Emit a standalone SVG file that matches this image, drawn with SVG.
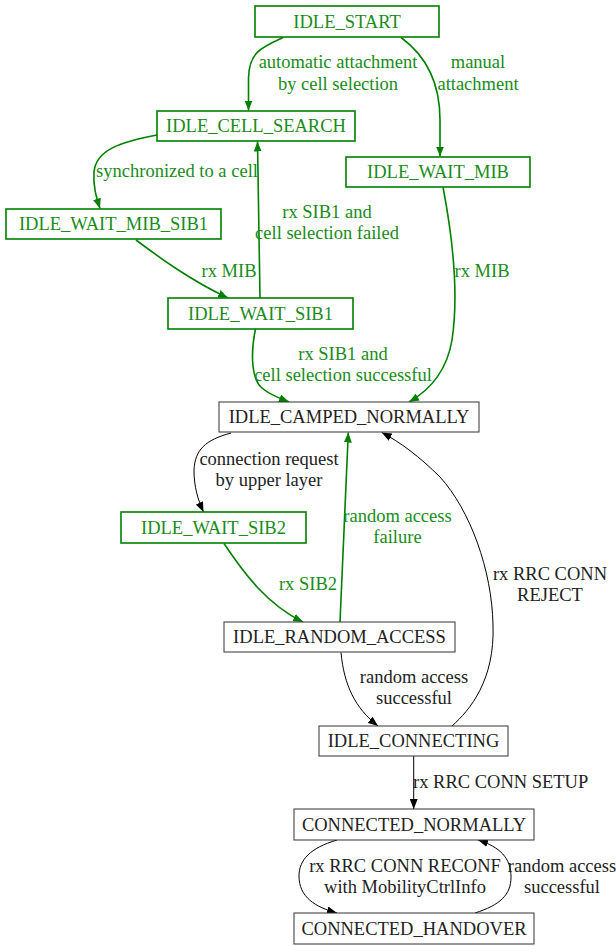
<svg xmlns="http://www.w3.org/2000/svg" width="616" height="946" viewBox="0 0 616 946">
<defs>
<marker id="ag" markerWidth="10" markerHeight="8" refX="10" refY="4" orient="auto" markerUnits="userSpaceOnUse" viewBox="0 0 10 8"><path d="M0,0 L10,4 L0,8 z" fill="#008000"/></marker>
<marker id="ab" markerWidth="10" markerHeight="8" refX="10" refY="4" orient="auto" markerUnits="userSpaceOnUse" viewBox="0 0 10 8"><path d="M0,0 L10,4 L0,8 z" fill="#000"/></marker>
</defs>
<style>
.gbox{fill:#fff;stroke:#008000;stroke-width:1.6}
.bbox{fill:#fff;stroke:#333;stroke-width:1}
text{font-size:18.5px;text-anchor:middle}
.gt{fill:#1a8c1a}
.bt{fill:#222}
.ge{fill:none;stroke:#008000;stroke-width:1.6;marker-end:url(#ag)}
.be{fill:none;stroke:#000;stroke-width:1;marker-end:url(#ab)}
</style>
<rect width="616" height="946" fill="#fff"/>
<g font-family="'Liberation Serif', 'DejaVu Serif', serif">
<g id="connectors">
<path class="ge" d="M283,37.5 C262,47 249,52 248.5,78 L248.5,110.5"/>
<path class="ge" d="M401,37.5 C425,55 440,80 440,120 L440,156.5"/>
<path class="ge" d="M157,135 C120,142 96,150 94,172 C93,186 96,196 100,208.5"/>
<path class="ge" d="M136,240 C160,258 190,280 228,298"/>
<path class="ge" d="M260,298 L257.5,141.5"/>
<path class="ge" d="M255.5,329 C250,355 252,380 262,388 C270,395 279,398 289,402"/>
<path class="ge" d="M443,187 C455,250 458,300 452,340 C447,370 430,390 409,402"/>
<path class="be" d="M231,433 C205,440 195,450 194,470 C194,487 198,500 203.5,512"/>
<path class="ge" d="M340,622 L348.3,432.5"/>
<path class="ge" d="M224,543.5 C245,575 268,605 303,622"/>
<path class="be" d="M452,726 C470,710 495,680 493,625 C492,570 470,510 440,477 C420,457 400,442 381.7,432.5"/>
<path class="be" d="M341,652.5 C344,685 355,708 378,726"/>
<path class="be" d="M413.7,756 L413.7,809"/>
<path class="be" d="M337,840 C310,848 299,860 299,876 C299,897 315,907 337,913"/>
<path class="be" d="M475,913 C500,905 511,895 511,877 C511,858 500,847 478,840"/>
</g>
<g id="edge-labels">
<text class="gt" x="338" y="68">automatic attachment</text>
<text class="gt" x="338" y="90">by cell selection</text>
<text class="gt" x="478" y="68">manual</text>
<text class="gt" x="478" y="90">attachment</text>
<text class="gt" x="177" y="177">synchronized to a cell</text>
<text class="gt" x="327" y="218">rx SIB1 and</text>
<text class="gt" x="327" y="239">cell selection failed</text>
<text class="gt" x="229" y="277">rx MIB</text>
<text class="gt" x="482" y="277">rx MIB</text>
<text class="gt" x="343" y="360">rx SIB1 and</text>
<text class="gt" x="343" y="381">cell selection successful</text>
<text class="bt" x="269" y="465">connection request</text>
<text class="bt" x="269" y="486">by upper layer</text>
<text class="gt" x="397.5" y="522">random access</text>
<text class="gt" x="397.5" y="543">failure</text>
<text class="gt" x="308" y="590">rx SIB2</text>
<text class="bt" x="550" y="580">rx RRC CONN</text>
<text class="bt" x="550" y="601">REJECT</text>
<text class="bt" x="414" y="683">random access</text>
<text class="bt" x="414" y="704">successful</text>
<text class="bt" x="413" y="788" style="text-anchor:start">rx RRC CONN SETUP</text>
<text class="bt" x="405" y="872">rx RRC CONN RECONF</text>
<text class="bt" x="405" y="893">with MobilityCtrlInfo</text>
<text class="bt" x="562" y="872">random access</text>
<text class="bt" x="562" y="893">successful</text>
</g>
<g id="IDLE_START"><rect class="gbox" x="255" y="6" width="184" height="31"/><text class="gt" x="347" y="28">IDLE_START</text></g>
<g id="IDLE_CELL_SEARCH"><rect class="gbox" x="157" y="111" width="198" height="30"/><text class="gt" x="256" y="132">IDLE_CELL_SEARCH</text></g>
<g id="IDLE_WAIT_MIB"><rect class="gbox" x="346" y="157" width="184" height="30"/><text class="gt" x="438" y="178">IDLE_WAIT_MIB</text></g>
<g id="IDLE_WAIT_MIB_SIB1"><rect class="gbox" x="6" y="209" width="215" height="30"/><text class="gt" x="113.5" y="230">IDLE_WAIT_MIB_SIB1</text></g>
<g id="IDLE_WAIT_SIB1"><rect class="gbox" x="168" y="298" width="185" height="31"/><text class="gt" x="260.5" y="320">IDLE_WAIT_SIB1</text></g>
<g id="IDLE_CAMPED_NORMALLY"><rect class="bbox" x="219" y="402" width="260" height="30"/><text class="bt" x="349" y="423">IDLE_CAMPED_NORMALLY</text></g>
<g id="IDLE_WAIT_SIB2"><rect class="gbox" x="121" y="512" width="185" height="31"/><text class="gt" x="213.5" y="534">IDLE_WAIT_SIB2</text></g>
<g id="IDLE_RANDOM_ACCESS"><rect class="bbox" x="224" y="622" width="231" height="30"/><text class="bt" x="339.5" y="643">IDLE_RANDOM_ACCESS</text></g>
<g id="IDLE_CONNECTING"><rect class="bbox" x="319" y="726" width="189" height="30"/><text class="bt" x="413.5" y="747">IDLE_CONNECTING</text></g>
<g id="CONNECTED_NORMALLY"><rect class="bbox" x="294" y="809" width="240" height="31"/><text class="bt" x="414" y="831">CONNECTED_NORMALLY</text></g>
<g id="CONNECTED_HANDOVER"><rect class="bbox" x="294" y="913" width="240" height="31"/><text class="bt" x="414" y="935">CONNECTED_HANDOVER</text></g>
</g>
</svg>
